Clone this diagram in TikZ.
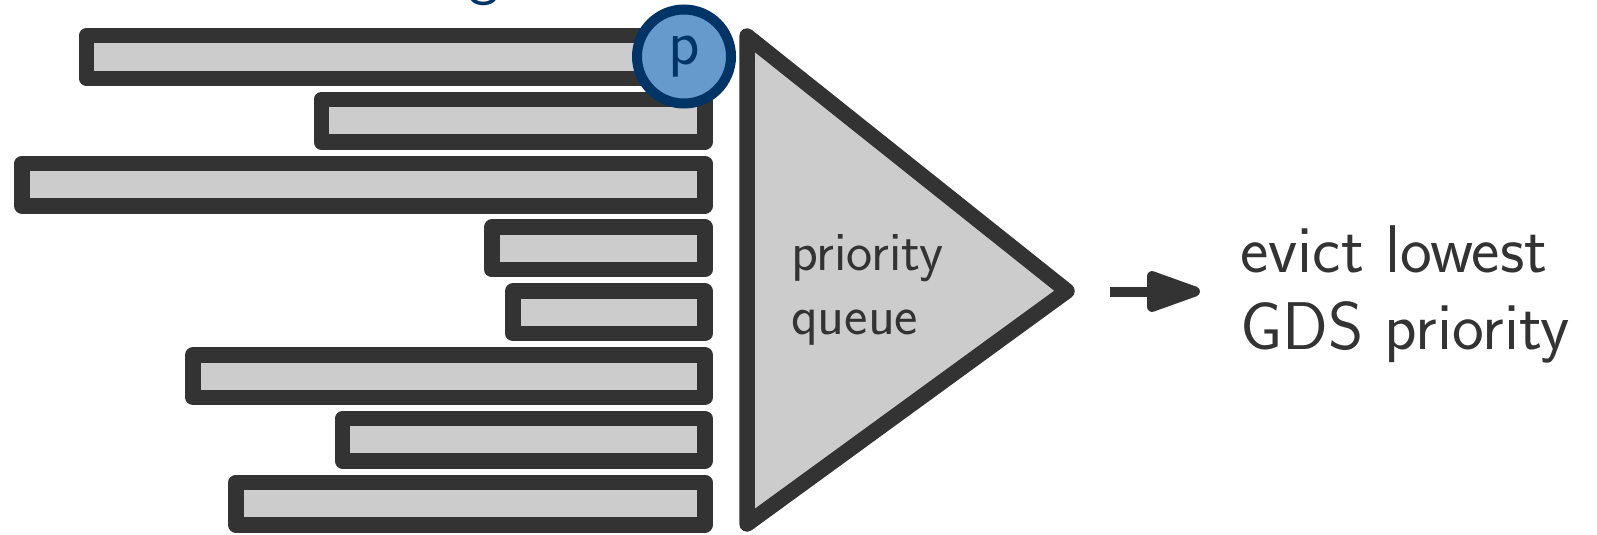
\documentclass[tikz,border=0pt]{standalone}
\usetikzlibrary{arrows.meta}

\definecolor{ink}{HTML}{333333}
\definecolor{barfill}{HTML}{CCCCCC}
\definecolor{pblue}{HTML}{6699CC}
\definecolor{navy}{HTML}{003366}

\tikzset{
  bar/.style={draw=ink, fill=barfill, line width=15.5pt, line join=round,
              rectangle, inner sep=0pt, outer sep=0pt, minimum height=42.5pt,
              anchor=east},
  queueshape/.style={draw=ink, fill=barfill, line width=15.5pt, line join=round},
  pmark/.style={circle, draw=navy, fill=pblue, line width=10pt, inner sep=0pt,
                minimum size=94pt, text=navy, font=\sffamily\fontsize{65}{70}\selectfont},
  label/.style={inner sep=0pt, outer sep=0pt, text=ink, align=left, anchor=north west},
  evictarrow/.style={draw=ink, line width=10pt,
                     -{Triangle[length=64pt, width=42pt, round]}}
}

\begin{document}
\begin{tikzpicture}[x=1pt, y=-1pt]
  \useasboundingbox (0,0) rectangle (1597,535);

  % descender of the heading above, mostly off the page
  \node[inner sep=0pt, text=navy, font=\sffamily\fontsize{65}{70}\selectfont, anchor=base]
    (heading) at (484,-7.4) {g};

  % the queued objects, all right-aligned at the queue input
  \node[bar, minimum width=618.5pt]  (b1) at (705,57.0)  {};
  \node[bar, minimum width=383.75pt] (b2) at (705,120.8) {};
  \node[bar, minimum width=683pt]    (b3) at (705,184.6) {};
  \node[bar, minimum width=213.25pt] (b4) at (705,248.4) {};
  \node[bar, minimum width=192.15pt] (b5) at (705,312.2) {};
  \node[bar, minimum width=511.95pt] (b6) at (705,376.0) {};
  \node[bar, minimum width=362.35pt] (b7) at (705,439.8) {};
  \node[bar, minimum width=469.05pt] (b8) at (705,503.6) {};

  % priority marker on the first object
  \node[pmark] (p) at (684,56.5) {p};

  % priority queue drawn as a funnel
  \draw[queueshape] (747,36) coordinate (qtop) -- (1067,291) coordinate (apex)
        -- (747,524) coordinate (qbottom) -- cycle;
  \node[label, font=\sffamily\fontsize{55.6}{64.5}\selectfont] (qlabel) at (791,234)
    {priority\\queue};

  % output of the queue
  \node[label, font=\sffamily\fontsize{67.5}{77}\selectfont] (evict) at (1240.5,226)
    {evict lowest\\GDS priority};
  \coordinate (arrstart) at (1110,291.5);
  \coordinate (arrend) at (1200,291.5);
  \draw[evictarrow] (arrstart) -- (arrend);
\end{tikzpicture}
\end{document}
